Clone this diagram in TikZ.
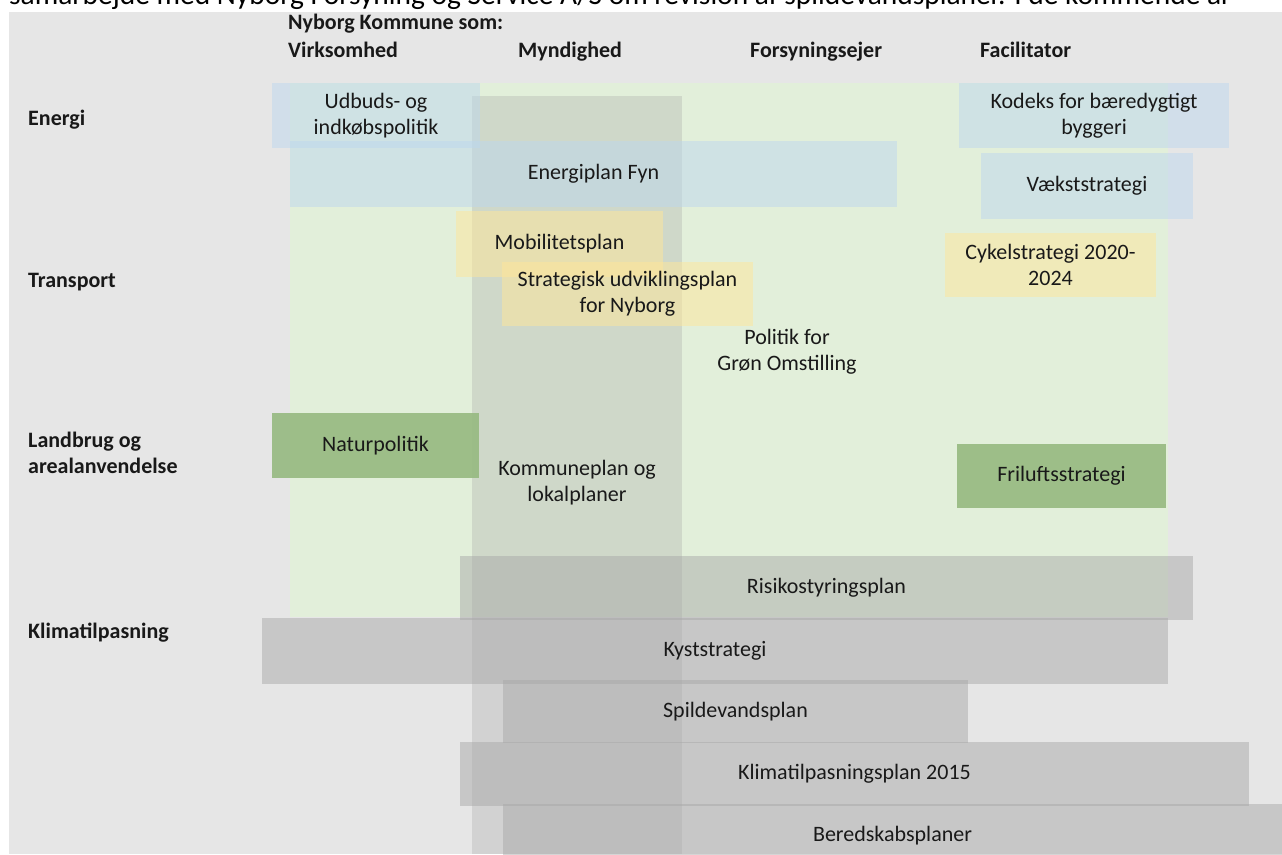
\documentclass[tikz,border=0pt]{standalone}
\usepackage{fontspec}
\setmainfont{Carlito}
\usepackage{graphicx}
\definecolor{bgray}{RGB}{230,230,230}
\definecolor{lgreen}{RGB}{226,239,218}
\definecolor{colgray}{RGB}{166,166,166}
\definecolor{pblue}{RGB}{189,215,238}
\definecolor{pyellow}{RGB}{255,230,153}
\definecolor{pgreen}{RGB}{150,185,128}
\definecolor{pgray}{RGB}{166,166,166}
\definecolor{txt}{RGB}{25,25,25}
\begin{document}
\begin{tikzpicture}[x=1pt,y=-1pt,
  lbl/.style={font=\fontsize{22}{26}\selectfont, text=txt, align=center, inner sep=0pt, text opacity=1},
  hdr/.style={font=\bfseries\fontsize{22}{26}\selectfont, text=txt, anchor=base west, inner sep=0pt},
  planbox/.style 2 args={lbl, minimum width=#1, minimum height=#2},
  bluebox/.style={fill=pblue, fill opacity=0.5},
  yellowbox/.style={fill=pyellow, fill opacity=0.5},
  greenbox/.style={fill=pgreen, fill opacity=0.9},
  graybox/.style={fill=pgray, fill opacity=0.47}
]
\useasboundingbox (0,0) rectangle (1282,854);
\fill[white] (0,0) rectangle (1282,854);
% cut-off running text at the top
\begin{scope}
\clip (0,0) rectangle (1282,12);
\node[anchor=base west, inner sep=0pt, text=black] (toptext) at (9,4)
  {\resizebox{1222pt}{!}{samarbejde med Nyborg Forsyning og Service A/S om revision af spildevandsplaner. I de kommende år}};
\end{scope}
% backgrounds
\fill[bgray] (9,12) rectangle (1282,854);
\fill[lgreen] (290,83) rectangle (1168,617);
\fill[colgray, fill opacity=0.31] (472,96) rectangle (682,854);
% headers
\node[hdr] (hkom) at (288,29) {Nyborg Kommune som:};
\node[hdr] (hvirk) at (288,57) {Virksomhed};
\node[hdr] (hmynd) at (518,57) {Myndighed};
\node[hdr] (hfors) at (750,57) {Forsyningsejer};
\node[hdr] (hfac) at (980,57) {Facilitator};
% row labels
\node[hdr] (renergi) at (28,125) {Energi};
\node[hdr] (rtrans) at (28,287) {Transport};
\node[hdr, align=left, anchor=north west] (rland) at (28,432) {Landbrug og\\arealanvendelse};
\node[hdr] (rklima) at (28,638) {Klimatilpasning};
% energy
\node[planbox={208pt}{65pt}, bluebox] (udbud) at (376,115.5) {Udbuds- og\\indkøbspolitik};
\node[planbox={607pt}{66pt}, bluebox] (energifyn) at (593.5,174) {Energiplan Fyn};
\node[planbox={270pt}{65pt}, bluebox] (kodeks) at (1094,115.5) {Kodeks for bæredygtigt\\byggeri};
\node[planbox={212pt}{66pt}, bluebox] (vaekst) at (1087,186) {Vækststrategi};
% transport
\node[planbox={207pt}{66pt}, yellowbox] (mobil) at (559.5,244) {Mobilitetsplan};
\node[planbox={251pt}{64pt}, yellowbox] (strat) at (627.5,294) {Strategisk udviklingsplan\\for Nyborg};
\node[planbox={211pt}{64pt}, yellowbox] (cykel) at (1050.5,265) {Cykelstrategi 2020-\\2024};
\node[lbl] (politik) at (787,352) {Politik for\\Grøn Omstilling};
% land use
\node[planbox={207pt}{65pt}, greenbox] (natur) at (375.5,445.5) {Naturpolitik};
\node[lbl] (kommune) at (577,483) {Kommuneplan og\\lokalplaner};
\node[planbox={209pt}{64pt}, greenbox] (friluft) at (1061.5,476) {Friluftsstrategi};
% climate adaptation
\node[planbox={733pt}{64pt}, graybox] (risiko) at (826.5,588) {Risikostyringsplan};
\node[planbox={906pt}{66pt}, graybox] (kyst) at (715,651) {Kyststrategi};
\node[planbox={465pt}{63pt}, graybox] (spilde) at (735.5,711.5) {Spildevandsplan};
\node[planbox={789pt}{64pt}, graybox] (klimaplan) at (854.5,774) {Klimatilpasningsplan 2015};
\node[planbox={779pt}{64pt}, graybox] (bered) at (892.5,836) {Beredskabsplaner};
\end{tikzpicture}
\end{document}
